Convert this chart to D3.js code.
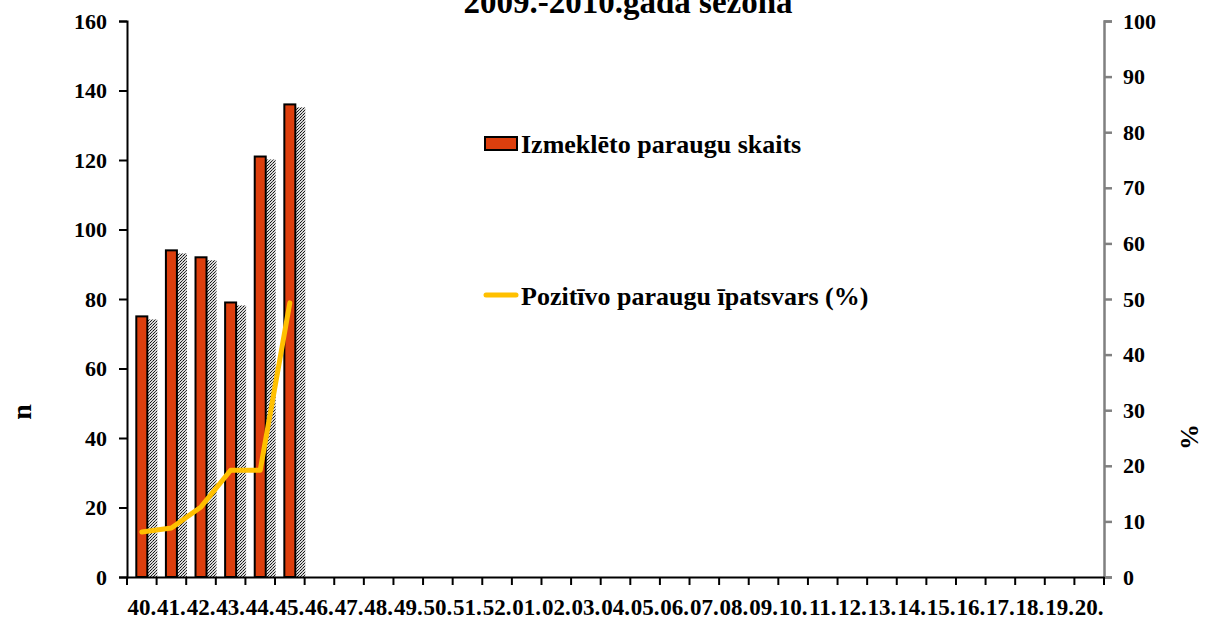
<!DOCTYPE html>
<html>
<head>
<meta charset="utf-8">
<script src="https://cdn.jsdelivr.net/npm/d3@7"></script>
<style>
  html, body { margin: 0; padding: 0; background: #fff; }
  text { font-family: "Liberation Serif", "Times New Roman", serif; font-weight: bold; fill: #000; }
</style>
</head>
<body>
<svg id="chart" width="1209" height="621"></svg>
<script>
const weeks = ['40', '41', '42', '43', '44', '45', '46', '47', '48', '49', '50', '51', '52',
  '01', '02', '03', '04', '05', '06', '07', '08', '09', '10', '11', '12', '13', '14', '15',
  '16', '17', '18', '19', '20'];
const samples = [75, 94, 92, 79, 121, 136];
const positiveShare = [8.1, 8.8, 12.6, 19.2, 19.2, 49.3];
const leftTicks = [0, 20, 40, 60, 80, 100, 120, 140, 160];
const rightTicks = [0, 10, 20, 30, 40, 50, 60, 70, 80, 90, 100];

const BAR = '#dd3f0e';
const LINE = '#ffc000';

const margin = { top: 21, right: 105, bottom: 44, left: 127 };
const width = 1209, height = 621;

const svg = d3.select('#chart');

// stipple for the bar shadows
const pat = svg.append('defs').append('pattern')
  .attr('id', 'stipple')
  .attr('width', 3).attr('height', 3)
  .attr('patternUnits', 'userSpaceOnUse');
pat.append('rect').attr('width', 3).attr('height', 3).attr('fill', '#d8d8d8');
pat.append('rect').attr('x', 0).attr('y', 0).attr('width', 1).attr('height', 1).attr('fill', '#111');
pat.append('rect').attr('x', 2).attr('y', 1).attr('width', 1).attr('height', 1).attr('fill', '#444');
pat.append('rect').attr('x', 1).attr('y', 2).attr('width', 1).attr('height', 1).attr('fill', '#222');

const x = d3.scaleBand()
  .domain(weeks)
  .range([margin.left, width - margin.right])
  .padding(0);

const yL = d3.scaleLinear().domain([0, 160]).range([height - margin.bottom, margin.top]);
const yR = d3.scaleLinear().domain([0, 100]).range([height - margin.bottom, margin.top]);

const barW = 11;

// shadows
svg.append('g')
  .selectAll('rect')
  .data(samples)
  .join('rect')
  .attr('x', (d, i) => x(weeks[i]) + x.bandwidth() / 2 + barW / 2)
  .attr('y', d => yL(d) + 3)
  .attr('width', 10)
  .attr('height', d => yL(0) - yL(d) - 3)
  .attr('fill', 'url(#stipple)');

// bars
svg.append('g')
  .selectAll('rect')
  .data(samples)
  .join('rect')
  .attr('x', (d, i) => x(weeks[i]) + x.bandwidth() / 2 - barW / 2)
  .attr('y', d => yL(d))
  .attr('width', barW)
  .attr('height', d => yL(0) - yL(d))
  .attr('fill', BAR)
  .attr('stroke', '#000')
  .attr('stroke-width', 2);

// line
const line = d3.line()
  .x((d, i) => x(weeks[i]) + x.bandwidth() / 2)
  .y(d => yR(d));
svg.append('path')
  .datum(positiveShare)
  .attr('d', line)
  .attr('fill', 'none')
  .attr('stroke', LINE)
  .attr('stroke-width', 5)
  .attr('stroke-linecap', 'round')
  .attr('stroke-linejoin', 'round');

// left axis
const axL = svg.append('g')
  .attr('transform', `translate(${margin.left},0)`)
  .call(d3.axisLeft(yL).tickValues(leftTicks).tickSize(8).tickSizeOuter(8).tickPadding(12));
axL.select('.domain').attr('stroke-width', 2);
axL.selectAll('.tick line').attr('stroke-width', 2);
axL.selectAll('text').style('font-size', '22px').attr('fill', '#000');

// right axis
const axR = svg.append('g')
  .attr('transform', `translate(${width - margin.right},0)`)
  .call(d3.axisRight(yR).tickValues(rightTicks).tickSize(8).tickSizeOuter(8).tickPadding(11));
axR.select('.domain').attr('stroke', '#808080').attr('stroke-width', 2.5);
axR.selectAll('.tick line').attr('stroke', '#808080').attr('stroke-width', 2.5);
axR.selectAll('text').style('font-size', '22px').attr('fill', '#000');

// x axis
const axX = svg.append('g')
  .attr('transform', `translate(0,${height - margin.bottom})`)
  .call(d3.axisBottom(x).tickSize(0).tickPadding(22).tickFormat(d => d + '.'));
axX.select('.domain').attr('stroke-width', 2);
axX.selectAll('text').style('font-size', '23px').attr('fill', '#000');

// tick marks at category boundaries
svg.append('g')
  .selectAll('line')
  .data(weeks.concat(['end']))
  .join('line')
  .attr('x1', (d, i) => i < weeks.length ? x(d) : x.range()[1])
  .attr('x2', (d, i) => i < weeks.length ? x(d) : x.range()[1])
  .attr('y1', yL(0))
  .attr('y2', yL(0) + 8)
  .attr('stroke', '#000')
  .attr('stroke-width', 2);

// title
svg.append('text')
  .attr('x', 628).attr('y', 13)
  .attr('text-anchor', 'middle')
  .style('font-size', '33px')
  .text('2009.-2010.gada sezona');

// legend
const legend = svg.append('g');
legend.append('rect')
  .attr('x', 485).attr('y', 137).attr('width', 32).attr('height', 13)
  .attr('fill', BAR).attr('stroke', '#000').attr('stroke-width', 2);
legend.append('text')
  .attr('x', 521).attr('y', 153)
  .style('font-size', '26px')
  .text('Izmeklēto paraugu skaits');
legend.append('line')
  .attr('x1', 486).attr('x2', 516).attr('y1', 295).attr('y2', 295)
  .attr('stroke', LINE).attr('stroke-width', 5).attr('stroke-linecap', 'round');
legend.append('text')
  .attr('x', 521).attr('y', 305)
  .style('font-size', '26px')
  .text('Pozitīvo paraugu īpatsvars (%)');

// axis titles
svg.append('text')
  .attr('transform', 'translate(31,412) rotate(-90)')
  .attr('text-anchor', 'middle')
  .style('font-size', '28px')
  .text('n');
svg.append('text')
  .attr('transform', 'translate(1198,437) rotate(-90)')
  .attr('text-anchor', 'middle')
  .style('font-size', '26px')
  .text('%');
</script>
</body>
</html>
